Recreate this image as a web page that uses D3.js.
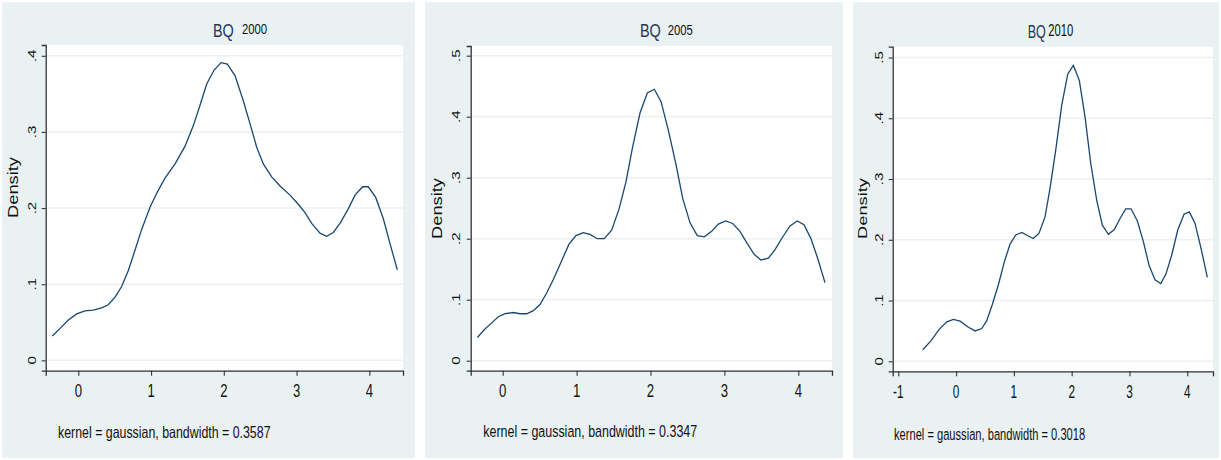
<!DOCTYPE html>
<html>
<head>
<meta charset="utf-8">
<script src="https://cdn.jsdelivr.net/npm/d3@7"></script>
<style>
  body { margin: 0; background: #fff; }
  svg { display: block; }
  text { font-family: "Liberation Sans", Arial, sans-serif; }
</style>
</head>
<body>
<svg id="chart" width="1221" height="460"></svg>
<script>
// kernel density estimates
const years = ["2000", "2005", "2010"];
const bandwidths = ["0.3587", "0.3347", "0.3018"];

const x2000 = [-0.357,-0.25,-0.137,-0.022,0.092,0.206,0.321,0.413,0.505,0.596,0.688,0.78,0.871,0.986,1.086,1.19,1.33,1.466,1.58,1.673,1.765,1.865,1.962,2.048,2.154,2.268,2.36,2.452,2.543,2.658,2.773,2.91,3.024,3.116,3.208,3.322,3.414,3.505,3.597,3.711,3.803,3.909,3.986,4.088,4.193,4.285,4.385];
const d2000 = [0.032,0.042,0.053,0.061,0.065,0.066,0.069,0.073,0.083,0.097,0.118,0.145,0.172,0.201,0.221,0.239,0.258,0.281,0.308,0.335,0.363,0.381,0.391,0.389,0.374,0.341,0.311,0.280,0.258,0.241,0.229,0.217,0.205,0.194,0.180,0.167,0.163,0.168,0.180,0.199,0.217,0.228,0.228,0.214,0.186,0.153,0.119];

const x2005 = [-0.343,-0.24,-0.149,-0.059,0.031,0.143,0.234,0.325,0.414,0.505,0.595,0.685,0.798,0.897,0.992,1.09,1.18,1.28,1.375,1.474,1.573,1.668,1.759,1.858,1.957,2.052,2.142,2.241,2.341,2.436,2.535,2.633,2.728,2.828,2.918,3.017,3.112,3.211,3.31,3.405,3.495,3.594,3.685,3.784,3.888,3.986,4.077,4.168,4.262,4.361];
const d2005 = [0.038,0.052,0.062,0.072,0.077,0.079,0.077,0.077,0.082,0.092,0.111,0.133,0.164,0.191,0.205,0.210,0.207,0.200,0.200,0.214,0.248,0.293,0.351,0.406,0.439,0.445,0.425,0.378,0.324,0.266,0.226,0.205,0.203,0.212,0.224,0.229,0.225,0.212,0.192,0.174,0.165,0.168,0.182,0.202,0.221,0.229,0.223,0.201,0.168,0.128];

const x2010 = [-0.576,-0.433,-0.289,-0.161,-0.047,0.069,0.213,0.329,0.444,0.531,0.628,0.732,0.836,0.934,1.033,1.137,1.234,1.337,1.436,1.54,1.626,1.725,1.829,1.933,2.03,2.133,2.232,2.33,2.434,2.531,2.635,2.739,2.837,2.936,3.028,3.137,3.241,3.339,3.443,3.542,3.633,3.732,3.836,3.945,4.037,4.135,4.239,4.348];
const d2010 = [0.019,0.034,0.053,0.065,0.069,0.066,0.056,0.050,0.054,0.067,0.094,0.126,0.164,0.193,0.208,0.212,0.207,0.202,0.211,0.238,0.285,0.348,0.422,0.473,0.487,0.462,0.402,0.326,0.265,0.224,0.209,0.217,0.235,0.251,0.251,0.231,0.197,0.158,0.134,0.128,0.144,0.175,0.216,0.242,0.246,0.227,0.186,0.138];

const xTicks = [[0,1,2,3,4],[0,1,2,3,4],[-1,0,1,2,3,4]];
const yTicks = [[0,0.1,0.2,0.3,0.4],[0,0.1,0.2,0.3,0.4,0.5],[0,0.1,0.2,0.3,0.4,0.5]];
const xs = [x2000, x2005, x2010];
const ds = [d2000, d2005, d2010];

// panel geometry (pixels) and axis extents
const panels = [
  { bg:[2,2,413,456], plot:[45.7,45,403,370.7], xd:[-0.448,4.463], yd:[-0.0136,0.4142],
    sx:0.75, tsx:0.78, bq:[213,36.7], yr:[242,34], yrFs:14.5, foot:[58,438], dens:[18.3,187.5], ylab:10 },
  { bg:[425,2,418,456], plot:[470.7,46,832,370.7], xd:[-0.433,4.456], yd:[-0.0164,0.5159],
    sx:0.755, tsx:0.78, bq:[640,37.3], yr:[667.7,34.7], yrFs:14.5, foot:[483.3,437.3], dens:[441.7,208.5], ylab:10.5 },
  { bg:[853,2,366,456], plot:[892.7,46.7,1213,371.3], xd:[-1.097,4.446], yd:[-0.01645,0.5178],
    sx:0.675, tsx:0.68, bq:[1027.7,37.7], yr:[1048.3,36], yrFs:16.5, foot:[894,440], dens:[867.3,208.5], ylab:9.5 }
];

const svg = d3.select("#chart");
const navy = "#1a476f";

panels.forEach((p, i) => {
  const g = svg.append("g");
  const [l, t, r, b] = p.plot;

  g.append("rect").attr("x", p.bg[0]).attr("y", p.bg[1])
    .attr("width", p.bg[2]).attr("height", p.bg[3]).attr("fill", "#eaf1f3");
  g.append("rect").attr("x", l).attr("y", t).attr("width", r - l).attr("height", b - t)
    .attr("fill", "#fff");

  const x = d3.scaleLinear().domain(p.xd).range([l, r]);
  const y = d3.scaleLinear().domain(p.yd).range([b, t]);

  // gridlines
  g.selectAll(".grid").data(yTicks[i]).enter().append("line")
    .attr("x1", l).attr("x2", r)
    .attr("y1", d => y(d)).attr("y2", d => y(d))
    .attr("stroke", "#eaf1f3").attr("stroke-width", 1.5);

  // axes
  const xAxis = g.append("g").attr("transform", `translate(0,${b})`)
    .call(d3.axisBottom(x).tickValues(xTicks[i]).tickSize(5).tickFormat(""));
  const yAxis = g.append("g").attr("transform", `translate(${l},0)`)
    .call(d3.axisLeft(y).tickValues(yTicks[i]).tickSize(4).tickFormat(""));
  [xAxis, yAxis].forEach(a => {
    a.select(".domain").attr("stroke", "#333").attr("stroke-width", 1.3);
    a.selectAll(".tick line").attr("stroke", "#333").attr("stroke-width", 1.1);
  });

  // tick labels, squeezed like the reference
  g.selectAll(".xl").data(xTicks[i]).enter().append("text")
    .attr("transform", d => `translate(${x(d)},${b + 26.5}) scale(${p.sx},1)`)
    .attr("text-anchor", "middle").attr("font-size", 17.5).attr("fill", "#111")
    .text(d => d);
  g.selectAll(".yl").data(yTicks[i]).enter().append("text")
    .attr("transform", d => `translate(${l - p.ylab},${y(d)}) scale(${p.sx},1) rotate(-90)`)
    .attr("text-anchor", "middle").attr("font-size", 15).attr("fill", "#111")
    .text(d => d === 0 ? "0" : d3.format(".1f")(d).replace(/^0/, ""));

  g.append("text")
    .attr("transform", `translate(${p.dens[0]},${p.dens[1]}) scale(${p.sx},1) rotate(-90)`)
    .attr("text-anchor", "middle").attr("font-size", 18.3).attr("fill", "#111")
    .text("Density");

  // title
  g.append("text")
    .attr("transform", `translate(${p.bq[0]},${p.bq[1]}) scale(${p.tsx},1)`)
    .attr("font-size", 18.5).attr("fill", "#27345c").text("BQ");
  g.append("text")
    .attr("transform", `translate(${p.yr[0]},${p.yr[1]}) scale(${p.tsx},1)`)
    .attr("font-size", p.yrFs).attr("fill", "#111").text(years[i]);

  // note
  g.append("text")
    .attr("transform", `translate(${p.foot[0]},${p.foot[1]}) scale(${p.sx},1)`)
    .attr("font-size", 16.5).attr("fill", "#111")
    .text("kernel = gaussian, bandwidth = " + bandwidths[i]);

  // density curve
  const pts = xs[i].map((v, k) => [v, ds[i][k]]);
  g.append("path").datum(pts)
    .attr("d", d3.line().x(d => x(d[0])).y(d => y(d[1])))
    .attr("fill", "none").attr("stroke", navy).attr("stroke-width", 1.3);
});
</script>
</body>
</html>
